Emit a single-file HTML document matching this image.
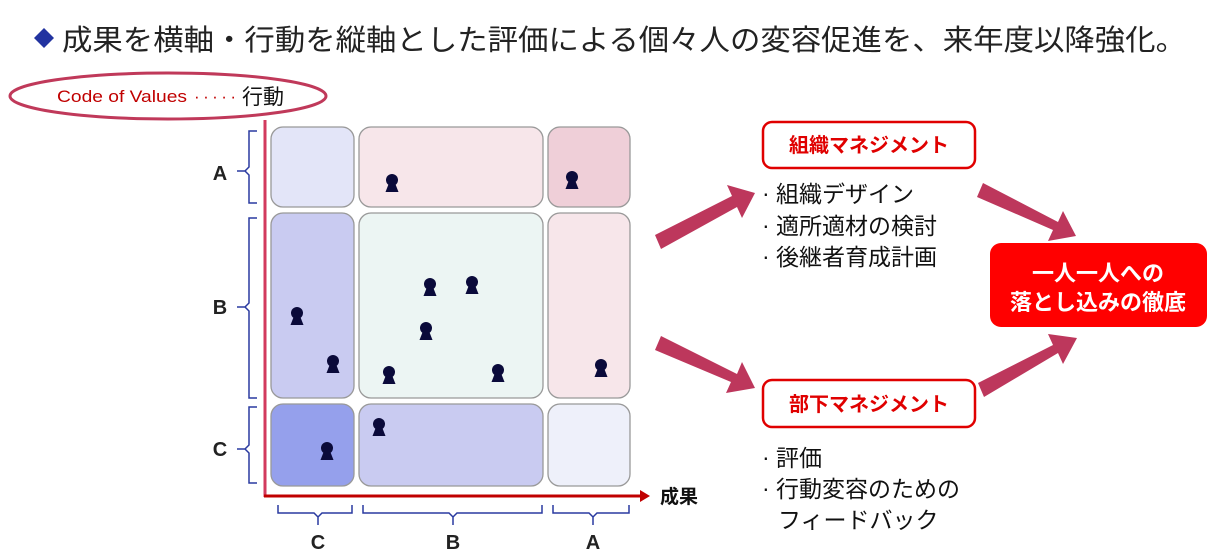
<!DOCTYPE html>
<html><head><meta charset="utf-8"><style>
html,body{margin:0;padding:0;background:#fff;}
svg{display:block;font-family:"Liberation Sans","Noto Sans CJK JP",sans-serif;}
</style></head><body>
<svg width="1223" height="553" viewBox="0 0 1223 553">
<defs>
<g id="p"><circle cx="0" cy="-4" r="6" fill="#0a0a3a"/><path d="M-3,-1 L3,-1 L6.5,8 L-6.5,8 Z" fill="#0a0a3a"/></g>
</defs>
<path d="M44,28 L54,38 L44,48 L34,38 Z" fill="#2233a0"/>
<text x="62" y="50" font-size="29" fill="#222" textLength="1124" lengthAdjust="spacingAndGlyphs">成果を横軸・行動を縦軸とした評価による個々人の変容促進を、来年度以降強化。</text>
<ellipse cx="168" cy="96" rx="158" ry="23" fill="#fff" stroke="#c0395a" stroke-width="3"/>
<text x="57" y="102" font-size="17" fill="#c00000" textLength="130" lengthAdjust="spacingAndGlyphs">Code of Values</text>
<text x="194" y="102" font-size="17" fill="#c00000" textLength="42" lengthAdjust="spacing">·····</text>
<text x="242" y="104" font-size="21" fill="#111">行動</text>
<line x1="265" y1="120" x2="265" y2="497" stroke="#d23a5e" stroke-width="3"/>
<line x1="264" y1="496" x2="642" y2="496" stroke="#c00000" stroke-width="3"/>
<path d="M640,490 L650,496 L640,502 Z" fill="#c00000"/>
<text x="660" y="503" font-size="19" font-weight="bold" fill="#111">成果</text>
<g stroke="#999" stroke-width="1.3">
<rect x="271" y="127" width="83" height="80" rx="12" fill="#e3e5f8"/>
<rect x="359" y="127" width="184" height="80" rx="12" fill="#f7e6ea"/>
<rect x="548" y="127" width="82" height="80" rx="12" fill="#efcfd8"/>
<rect x="271" y="213" width="83" height="185" rx="12" fill="#c9cbf1"/>
<rect x="359" y="213" width="184" height="185" rx="12" fill="#ecf5f3"/>
<rect x="548" y="213" width="82" height="185" rx="12" fill="#f7e6ea"/>
<rect x="271" y="404" width="83" height="82" rx="12" fill="#95a0ec"/>
<rect x="359" y="404" width="184" height="82" rx="12" fill="#c9cbf1"/>
<rect x="548" y="404" width="82" height="82" rx="12" fill="#eef0fa"/>
</g>
<use href="#p" x="392" y="184"/><use href="#p" x="572" y="181"/>
<use href="#p" x="430" y="288"/><use href="#p" x="472" y="286"/>
<use href="#p" x="297" y="317"/><use href="#p" x="426" y="332"/>
<use href="#p" x="333" y="365"/><use href="#p" x="389" y="376"/>
<use href="#p" x="498" y="374"/><use href="#p" x="601" y="369"/>
<use href="#p" x="379" y="428"/><use href="#p" x="327" y="452"/>
<g fill="none" stroke="#2a3aa0" stroke-width="1.5">
<path d="M257,131 L249,131 L249,167 L245,171 L249,175 L249,203 L257,203 M245,171 L237,171"/>
<path d="M257,218 L249,218 L249,303 L245,307 L249,311 L249,398 L257,398 M245,307 L237,307"/>
<path d="M257,407 L249,407 L249,445 L245,449 L249,453 L249,483 L257,483 M245,449 L237,449"/>
<path d="M278,505 L278,513 L314,513 L318,517 L322,513 L352,513 L352,505 M318,517 L318,525"/>
<path d="M363,505 L363,513 L449,513 L453,517 L457,513 L542,513 L542,505 M453,517 L453,525"/>
<path d="M553,505 L553,513 L589,513 L593,517 L597,513 L629,513 L629,505 M593,517 L593,525"/>
</g>
<g font-size="20" font-weight="bold" fill="#222" text-anchor="middle">
<text x="220" y="180">A</text><text x="220" y="314">B</text><text x="220" y="456">C</text>
<text x="318" y="549">C</text><text x="453" y="549">B</text><text x="593" y="549">A</text>
</g>
<g fill="#bd375c">
<path d="M655,235 L732,196 L727,185 L755,193 L742,218 L737,207 L661,249 Z"/>
<path d="M661,336 L737,374 L742,362 L755,388 L726,393 L731,382 L655,350 Z"/>
<path d="M983,183 L1058,222 L1063,211 L1076,236 L1048,241 L1053,230 L977,197 Z"/>
<path d="M978,383 L1053,345 L1048,334 L1077,338 L1063,364 L1058,353 L984,397 Z"/>
</g>
<rect x="763" y="122" width="212" height="46" rx="9" fill="#fff" stroke="#e00000" stroke-width="2.5"/>
<text x="869" y="152" font-size="20" font-weight="bold" fill="#e00000" text-anchor="middle">組織マネジメント</text>
<rect x="763" y="380" width="212" height="47" rx="9" fill="#fff" stroke="#e00000" stroke-width="2.5"/>
<text x="869" y="411" font-size="20" font-weight="bold" fill="#e00000" text-anchor="middle">部下マネジメント</text>
<g font-size="23" fill="#111">
<text x="762" y="201">·</text><text x="776" y="202">組織デザイン</text>
<text x="762" y="233">·</text><text x="776" y="234">適所適材の検討</text>
<text x="762" y="264">·</text><text x="776" y="265">後継者育成計画</text>
<text x="762" y="465">·</text><text x="776" y="466">評価</text>
<text x="762" y="496">·</text><text x="776" y="497">行動変容のための</text>
<text x="778" y="528">フィードバック</text>
</g>
<rect x="990" y="243" width="217" height="84" rx="11" fill="#ff0000"/>
<g font-size="22" font-weight="bold" fill="#fff" text-anchor="middle">
<text x="1098" y="281">一人一人への</text>
<text x="1098" y="310">落とし込みの徹底</text>
</g>
</svg>
</body></html>
